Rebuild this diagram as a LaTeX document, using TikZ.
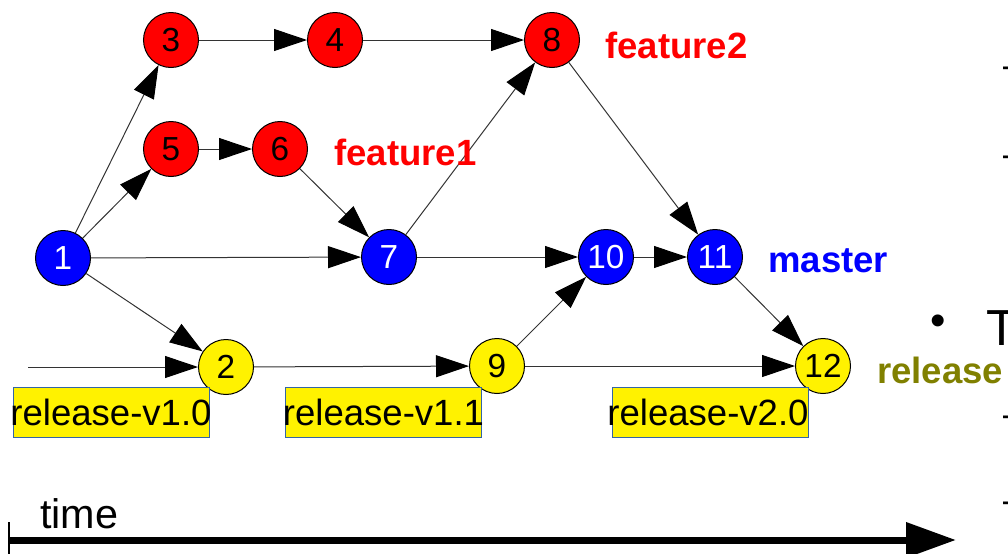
\documentclass[tikz,border=0pt]{standalone}
\usepackage{fontspec}
\setmainfont{Liberation Sans}
\usetikzlibrary{arrows.meta}

\definecolor{boxblue}{RGB}{52,101,164}
\definecolor{olivelabel}{RGB}{128,128,0}

\tikzset{
    commit/.style={circle, draw=black, line width=0.75pt, minimum size=41.25pt,
        inner sep=0pt, font=\fontsize{25}{25}\selectfont},
    featcommit/.style={commit, fill=red},
    mastercommit/.style={commit, fill=blue, text=white},
    relcommit/.style={commit, fill=yellow},
    gitedge/.style={-{Triangle[length=24.75pt, width=16.5pt, black]}, line width=0.75pt, black!80},
    branchlabel/.style={anchor=base west, inner sep=0pt,
        font=\bfseries\fontsize{27.4}{30}\selectfont},
    relbox/.style={fill=yellow, draw=boxblue, line width=0.75pt, minimum width=147pt,
        minimum height=37.5pt, inner sep=0pt, font=\fontsize{27.4}{30}\selectfont},
}

\begin{document}
\begin{tikzpicture}[x=0.75pt, y=-0.75pt]
    \useasboundingbox (0,0) rectangle (1008,554);
    \clip (0,0) rectangle (1008,554);

    % Commits
    \node[mastercommit] (c1) at (63,258) {1};
    \node[relcommit] (c2) at (226,367) {2};
    \node[featcommit] (c3) at (171,40) {3};
    \node[featcommit] (c4) at (335,40) {4};
    \node[featcommit] (c5) at (171,149) {5};
    \node[featcommit] (c6) at (280,149) {6};
    \node[mastercommit] (c7) at (389,257) {7};
    \node[featcommit] (c8) at (552,40) {8};
    \node[relcommit] (c9) at (497,366) {9};
    \node[mastercommit] (c10) at (606,257) {10};
    \node[mastercommit] (c11) at (715,257) {11};
    \node[relcommit] (c12) at (823,366) {12};
    \coordinate (rstart) at (28,367);

    % History
    \draw[gitedge] (c1) -- (c3);
    \draw[gitedge] (c1) -- (c5);
    \draw[gitedge] (c1) -- (c7);
    \draw[gitedge] (c1) -- (c2);
    \draw[gitedge] (c3) -- (c4);
    \draw[gitedge] (c4) -- (c8);
    \draw[gitedge] (c5) -- (c6);
    \draw[gitedge] (c6) -- (c7);
    \draw[gitedge] (c7) -- (c8);
    \draw[gitedge] (c7) -- (c10);
    \draw[gitedge] (c8) -- (c11);
    \draw[gitedge] (c10) -- (c11);
    \draw[gitedge] (c11) -- (c12);
    \draw[gitedge] (rstart) -- (c2);
    \draw[gitedge] (c2) -- (c9);
    \draw[gitedge] (c9) -- (c10);
    \draw[gitedge] (c9) -- (c12);

    % Branch names
    \node[branchlabel, red] (lfeat2) at (605,58) {feature2};
    \node[branchlabel, red] (lfeat1) at (334,165) {feature1};
    \node[branchlabel, blue] (lmaster) at (768,272) {master};
    \node[branchlabel, olivelabel] (lrelease) at (877,383) {release};

    % Tags
    \node[relbox] (tag1) at (111,412) {\makebox[0pt]{release-v1.0}};
    \node[relbox] (tag2) at (383.5,412) {\makebox[0pt]{release-v1.1}};
    \node[relbox] (tag3) at (710,412) {\makebox[0pt]{\hspace*{-3pt}release-v2.0}};

    % Time axis
    \coordinate (t0) at (9,540);
    \coordinate (t1) at (956,540);
    \draw[line width=5.25pt, -{Triangle[length=37.5pt, width=25.5pt]}] (t0) -- (t1);
    \draw[line width=2pt] (9,522) -- (9,556);
    \node[anchor=base west, inner sep=0pt, font=\fontsize{31}{31}\selectfont] (ltime) at (40,528) {time};

    % Slide text behind
    \node[anchor=center, inner sep=0pt, font=\fontsize{33}{33}\selectfont] (bullet) at (938,325) {•};
    \node[anchor=base west, inner sep=0pt, font=\fontsize{38}{38}\selectfont] (bigT) at (986,345) {T};
    \foreach \y in {73,162,422,508}
        \node[anchor=west, inner sep=0pt, font=\fontsize{30}{30}\selectfont] at (1003,\y) {–};
\end{tikzpicture}
\end{document}
